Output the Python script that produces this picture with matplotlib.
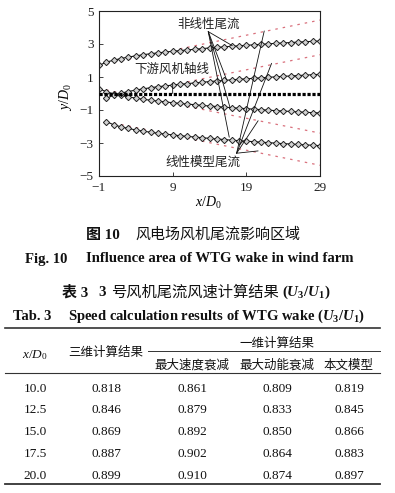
import matplotlib
matplotlib.use('Agg')
import matplotlib.pyplot as plt

plt.rcParams['font.family'] = ['Liberation Serif', 'Noto Sans CJK SC']
plt.rcParams['mathtext.fontset'] = 'custom'
plt.rcParams['mathtext.rm'] = 'Liberation Serif'
plt.rcParams['mathtext.it'] = 'Liberation Serif:italic'
plt.rcParams['mathtext.bf'] = 'Liberation Serif:bold'
plt.rcParams['mathtext.bfit'] = 'Liberation Serif:italic:bold'

# ---------------- data ----------------
x_upper = list(range(-1, 30))   # wake of turbine at x=-1
x_lower = list(range(0, 30))    # wake of turbine at x=0

wake_top = [1.70, 1.90, 2.02, 2.12, 2.21, 2.28, 2.35, 2.41, 2.46, 2.51, 2.56,
            2.60, 2.64, 2.68, 2.72, 2.76, 2.79, 2.83, 2.86, 2.89, 2.92, 2.95,
            2.98, 3.01, 3.04, 3.06, 3.09, 3.11, 3.14, 3.16, 3.18]
wake_upper_inner = [0.30, 0.10, -0.02, -0.12, -0.21, -0.28, -0.35, -0.41, -0.46,
                    -0.51, -0.56, -0.60, -0.64, -0.68, -0.72, -0.76, -0.79, -0.83,
                    -0.86, -0.89, -0.92, -0.95, -0.98, -1.01, -1.04, -1.06, -1.09,
                    -1.11, -1.14, -1.16, -1.18]
wake_lower_inner = [-0.30, -0.10, 0.02, 0.12, 0.21, 0.28, 0.35, 0.41, 0.46, 0.51,
                    0.56, 0.60, 0.64, 0.68, 0.72, 0.76, 0.79, 0.83, 0.86, 0.89,
                    0.92, 0.95, 0.98, 1.01, 1.04, 1.06, 1.09, 1.11, 1.14, 1.16]
wake_bottom = [-1.70, -1.90, -2.02, -2.12, -2.21, -2.28, -2.35, -2.41, -2.46, -2.51,
               -2.56, -2.60, -2.64, -2.68, -2.72, -2.76, -2.79, -2.83, -2.86, -2.89,
               -2.92, -2.95, -2.98, -3.01, -3.04, -3.06, -3.09, -3.11, -3.14, -3.16]

lin_x_upper = [-1, 29]
lin_top = [1.70, 4.45]
lin_upper_inner = [0.30, -2.40]
lin_x_lower = [0, 29]
lin_lower_inner = [-0.30, 2.35]
lin_bottom = [-1.70, -4.35]

axis_line_x = [-1, 29]
axis_line_y = [0, 0]

xticks = [-1, 9, 19, 29]
yticks = [-5, -3, -1, 1, 3, 5]

# table data
tab_x = ['10.0', '12.5', '15.0', '17.5', '20.0']
tab_3d = [0.818, 0.846, 0.869, 0.887, 0.899]
tab_max_speed = [0.861, 0.879, 0.892, 0.902, 0.910]
tab_max_energy = [0.809, 0.833, 0.850, 0.864, 0.874]
tab_model = [0.819, 0.845, 0.866, 0.883, 0.897]

# ---------------- figure ----------------
W, H = 395, 493
fig = plt.figure(figsize=(W / 100, H / 100), dpi=100)
fig.patch.set_facecolor('white')

bg = fig.add_axes([0, 0, 1, 1], zorder=-1)
bg.set_xlim(0, W)
bg.set_ylim(H, 0)
bg.axis('off')

ax = fig.add_axes([99 / W, 1 - 176 / H, 221 / W, 165 / H])

red = '#d9707c'
for xs, ys in [(lin_x_upper, lin_top), (lin_x_upper, lin_upper_inner),
               (lin_x_lower, lin_lower_inner), (lin_x_lower, lin_bottom)]:
    ax.plot(xs, ys, color=red, lw=0.9, linestyle=(0, (2, 4)), zorder=1)

for xs, ys in [(x_upper, wake_top), (x_upper, wake_upper_inner),
               (x_lower, wake_lower_inner), (x_lower, wake_bottom)]:
    ax.plot(xs, ys, color='#111111', lw=0.8, marker='D', markersize=3.2,
            markerfacecolor='#d2d2d2', markeredgecolor='#222222',
            markeredgewidth=0.7, zorder=2)

ax.plot(axis_line_x, axis_line_y, color='black', lw=2.3,
        linestyle=(0, (1.0, 0.55)), zorder=3, solid_capstyle='butt',
        dash_capstyle='butt')

ax.set_xlim(-1, 29)
ax.set_ylim(-5, 5)
ax.set_xticks(xticks)
ax.set_yticks(yticks)
ax.tick_params(direction='in', length=3, width=0.6, top=False, right=False,
               labelsize=9.5, pad=4, colors='#222222')
for s in ax.spines.values():
    s.set_linewidth(0.8)
    s.set_color('#222222')

ax.set_xlabel(r'$x/D_0$', fontsize=10, va='center')
ax.xaxis.set_label_coords((208 - 99) / 221, (176 - 203) / 165)
ax.set_ylabel(r'$y/D_0$', fontsize=10, va='center', rotation=90)
ax.yaxis.set_label_coords((66 - 99) / 221, (176 - 97) / 165)

cjk = ['Noto Sans CJK SC', 'DejaVu Sans']

# annotations
ax.text(13.86, 4.21, '非线性尾流', family=cjk, fontsize=9, ha='center', va='center',
        color='#222222')
p_nl = (13.83, 3.75)
for end in [(17.09, 2.90), (16.33, 0.82), (16.78, -0.84), (16.68, -2.65)]:
    ax.annotate('', xy=end, xytext=p_nl,
                arrowprops=dict(arrowstyle='-', lw=0.6, color='#111111',
                                shrinkA=0, shrinkB=0))

ax.text(13.05, -4.18, '线性模型尾流', family=cjk, fontsize=9, ha='center',
        va='center', color='#222222')
p_l = (17.68, -3.62)
for end in [(21.43, 3.79), (22.43, 1.83), (20.6, -1.65), (20.6, -3.48)]:
    ax.annotate('', xy=end, xytext=p_l,
                arrowprops=dict(arrowstyle='-', lw=0.6, color='#111111',
                                shrinkA=0, shrinkB=0))

ax.text(8.84, 1.48, '下游风机轴线', family=cjk, fontsize=9, ha='center',
        va='center', color='#222222')
ax.annotate('', xy=(9.0, 0.0), xytext=(9.0, 0.62),
            arrowprops=dict(arrowstyle='-', lw=0.6, color='#111111',
                            shrinkA=0, shrinkB=0))

# ---------------- captions ----------------
tc = '#111111'
bg.text(86, 235, '图 10', family=['Liberation Serif', 'Noto Sans CJK SC'],
        fontsize=10.8, fontweight='bold', va='center', ha='left', color=tc)
bg.text(135, 235, '风电场风机尾流影响区域', family=cjk, fontsize=10.8,
        va='center', ha='left', color=tc)
bg.text(25, 259, 'Fig. 10', fontsize=10.5, fontweight='bold', va='center',
        ha='left', color=tc)
bg.text(86, 259, 'Influence area of WTG wake in wind farm', fontsize=10.6,
        fontweight='bold', va='center', ha='left', color=tc)

bg.text(62, 292, '表 3', family=['Liberation Serif', 'Noto Sans CJK SC'],
        fontsize=10.8, fontweight='bold', va='center', ha='left', color=tc)
bg.text(98, 292, '3', fontsize=10.8, fontweight='bold', va='center', ha='left',
        color=tc)
bg.text(111, 292, '号风机尾流风速计算结果', family=cjk, fontsize=11,
        va='center', ha='left', color=tc)
bg.text(282, 292, r'$\mathbf{(}\mathbfit{U}_\mathbf{3}\mathbf{/}\mathbfit{U}_\mathbf{1}\mathbf{)}$',
        fontsize=10.8, va='center', ha='left', color=tc)
bg.text(13, 316, 'Tab. 3', fontsize=10.5, fontweight='bold', va='center',
        ha='left', color=tc)
bg.text(68, 316,
        r'Speed calculation results of WTG wake $\mathbf{(}\mathbfit{U}_\mathbf{3}\mathbf{/}\mathbfit{U}_\mathbf{1}\mathbf{)}$',
        fontsize=10.5, fontweight='bold', va='center', ha='left', color=tc)

# ---------------- table ----------------
rc = '#333333'
bg.plot([5, 380], [327.5, 327.5], color=rc, lw=1.2)
bg.plot([148, 380], [350.7, 350.7], color=rc, lw=0.7)
bg.plot([5, 380], [373.3, 373.3], color=rc, lw=0.8)
bg.plot([5, 380], [484, 484], color=rc, lw=1.3)

col_x = [35, 106, 192, 277, 349]
bg.text(col_x[0], 355, r'$x/D_0$', fontsize=9.5, ha='center', va='center',
        color=tc)
bg.text(col_x[1], 352.7, '三维计算结果', family=cjk, fontsize=9, ha='center',
        va='center', color=tc)
bg.text(277, 343.3, '一维计算结果', family=cjk, fontsize=9, ha='center',
        va='center', color=tc)
for cx, lab in zip(col_x[2:], ['最大速度衰减', '最大动能衰减', '本文模型']):
    bg.text(cx, 365, lab, family=cjk, fontsize=9, ha='center', va='center',
            color=tc)

row_y = [388.7, 410, 431.7, 454, 475.7]
for i, ry in enumerate(row_y):
    vals = [tab_x[i], f'{tab_3d[i]:.3f}', f'{tab_max_speed[i]:.3f}',
            f'{tab_max_energy[i]:.3f}', f'{tab_model[i]:.3f}']
    for cx, v in zip(col_x, vals):
        bg.text(cx, ry, v, fontsize=9.5, ha='center', va='center', color=tc)

fig.savefig('out.png', dpi=100, facecolor='white')
